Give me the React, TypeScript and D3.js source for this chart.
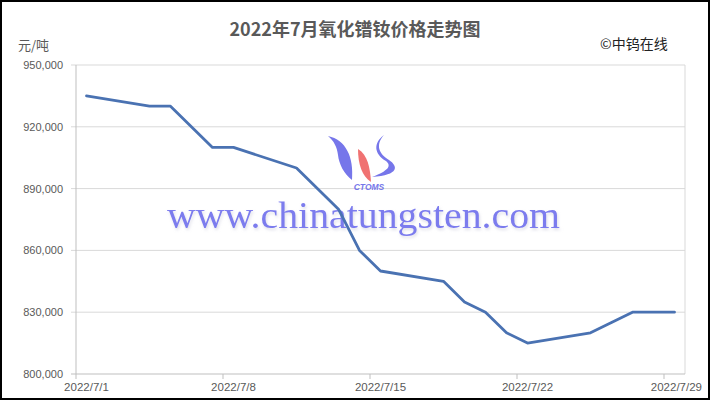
import React from "react";
import * as d3 from "d3";

const dates = ["2022-07-01","2022-07-04","2022-07-05","2022-07-07","2022-07-08","2022-07-11","2022-07-13","2022-07-14","2022-07-15","2022-07-18","2022-07-19","2022-07-20","2022-07-21","2022-07-22","2022-07-25","2022-07-26","2022-07-27","2022-07-29"];
const prices = [935000,930000,930000,910000,910000,900000,880000,860000,850000,845000,835000,830000,820000,815000,820000,825000,830000,830000];
const xTickDates = ["2022-07-01","2022-07-08","2022-07-15","2022-07-22","2022-07-29"];
const xTickLabels = ["2022/7/1","2022/7/8","2022/7/15","2022/7/22","2022/7/29"];
const yTicks = [800000, 830000, 860000, 890000, 920000, 950000];
const title = "2022年7月氧化镨钕价格走势图";
const unitLabel = "元/吨";
const sourceLabel = "©中钨在线";
const watermark = "www.chinatungsten.com";

const W = 710, H = 400;
const plot = { left: 76, right: 685, top: 65, bottom: 374 };
const parse = d3.utcParse("%Y-%m-%d");
const HALF_DAY = 12 * 3600 * 1000;

export default function App() {
  const d0 = parse(dates[0])!;
  const d1 = parse(dates[dates.length - 1])!;
  const x = d3.scaleUtc()
    .domain([new Date(d0.getTime() - HALF_DAY), new Date(d1.getTime() + HALF_DAY)])
    .range([plot.left, plot.right]);
  const y = d3.scaleLinear().domain([800000, 950000]).range([plot.bottom, plot.top]);
  const pts = dates.map((d, i) => ({ date: parse(d)!, v: prices[i] }));
  const line = d3.line<{ date: Date; v: number }>().x(p => x(p.date)).y(p => y(p.v));
  const fmt = d3.format(",");
  const font = "'Liberation Sans', Arial, sans-serif";
  const cjk = "'Noto Sans CJK SC', sans-serif";

  return (
    <div style={{ position: "absolute", left: 0, top: 0 }}>
      <svg width={W} height={H} style={{ display: "block", background: "#fff" }}>
        <defs>
          <filter id="glow" x="-5%" y="-20%" width="110%" height="140%">
            <feGaussianBlur in="SourceAlpha" stdDeviation="1.5" />
            <feOffset dx="1" dy="2" result="b" />
            <feFlood floodColor="#c8c8d8" floodOpacity="0.6" />
            <feComposite in2="b" operator="in" />
            <feMerge>
              <feMergeNode />
              <feMergeNode in="SourceGraphic" />
            </feMerge>
          </filter>
        </defs>
        <rect x={1} y={1} width={W - 2} height={H - 2} fill="#fff" stroke="#000" strokeWidth={2} />
        {yTicks.filter(t => t !== 800000).map(t => (
          <line key={t} x1={plot.left - 5} x2={plot.right} y1={y(t)} y2={y(t)} stroke="#d9d9d9" strokeWidth={1} />
        ))}
        <line x1={plot.right} x2={plot.right} y1={plot.top} y2={plot.bottom} stroke="#d9d9d9" />
        <line x1={plot.left} x2={plot.left} y1={plot.top} y2={plot.bottom} stroke="#bfbfbf" />
        <line x1={plot.left - 5} x2={plot.right} y1={plot.bottom} y2={plot.bottom} stroke="#bfbfbf" />
        {xTickDates.map(d => {
          const tx = x(new Date(parse(d)!.getTime() - HALF_DAY));
          return <line key={d} x1={tx} x2={tx} y1={plot.bottom} y2={plot.bottom + 5} stroke="#bfbfbf" />;
        })}
        {yTicks.map(t => (
          <text key={t} x={63} y={y(t) + 4} textAnchor="end" fontFamily={font} fontSize={11} fill="#595959">{fmt(t)}</text>
        ))}
        {xTickDates.map((d, i) => {
          const last = i === xTickDates.length - 1;
          return (
            <text key={d} x={last ? 702 : x(parse(d)!)} y={391} textAnchor={last ? "end" : "middle"}
              fontFamily={font} fontSize={11.5} fill="#595959">{xTickLabels[i]}</text>
          );
        })}
        <g>
          <path d="M328,136 C346,140 354,157 352,180 C344,174 339,164 338,155 C337,147 334,141 328,136 Z" fill="#7676ea" />
          <path d="M358,149 C368,155 370,168 371,182 C362,176 358,164 358,149 Z" fill="#f07272" />
          <path d="M384,135 C375,145 379,154 389,160 C398,166 400,175 372,177 C388,171 392,166 386,161 C374,154 373,143 384,135 Z" fill="#7676ea" />
          <text x={369} y={190} textAnchor="middle" fontFamily={font} fontSize={8.5} fontWeight="bold" fontStyle="italic" fill="#7676ea">CTOMS</text>
        </g>
        <text x={167} y={228} textLength={393} lengthAdjust="spacingAndGlyphs" fontFamily="'Liberation Serif', 'Times New Roman', serif"
          fontSize={37} fill="#7b7bee" filter="url(#glow)">{watermark}</text>
        <path d={line(pts) || ""} fill="none" stroke="#4a72b2" strokeWidth={2.8} strokeLinejoin="round" strokeLinecap="round" />
        <text x={355} y={36} textAnchor="middle" fontFamily={cjk} fontSize={18} fontWeight="bold" fill="#595959">{title}</text>
        <text x={18} y={50} fontFamily={cjk} fontSize={13} fill="#595959">{unitLabel}</text>
        <text x={600} y={49} fontFamily={cjk} fontSize={14} fill="#222">{sourceLabel}</text>
      </svg>
    </div>
  );
}
